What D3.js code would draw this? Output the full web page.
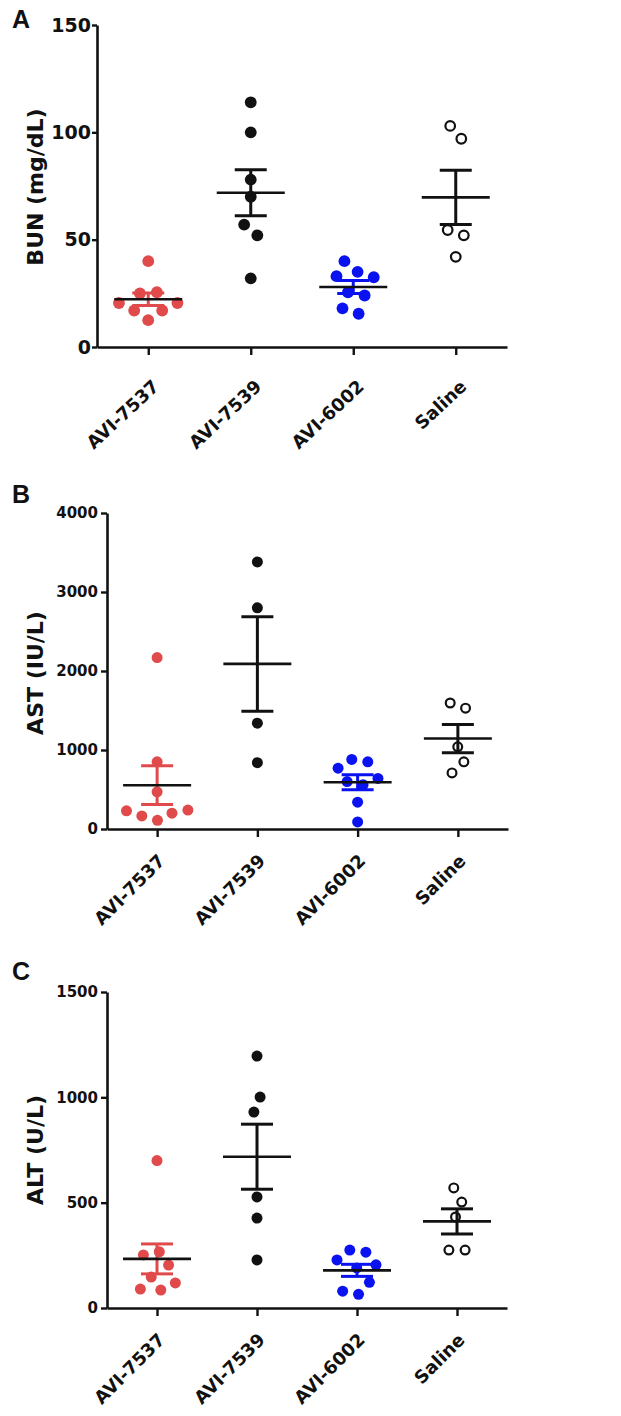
<!DOCTYPE html>
<html><head><meta charset="utf-8">
<script src="https://cdn.jsdelivr.net/npm/d3@7"></script>
<style>
body{margin:0;background:#fff}
text{font-family:"DejaVu Sans",sans-serif;font-weight:bold;fill:#111}
</style>
</head><body>
<svg id="chart" width="621" height="1416"></svg>
<script>
// ---------- data ----------
const categories = ["AVI-7537", "AVI-7539", "AVI-6002", "Saline"];

const bunTicks = [0, 50, 100, 150];
const bun7537 = [40, 25.5, 25, 20.5, 20.5, 17, 17, 12.5];
const bun7539 = [114, 100, 78, 70, 57, 52, 32];
const bun6002 = [40, 35, 33, 32.5, 25.5, 24, 18, 15.5];
const bunSaline = [103, 97, 54.5, 52, 42];

const astTicks = [0, 1000, 2000, 3000, 4000];
const ast7537 = [2170, 850, 470, 240, 230, 200, 165, 110];
const ast7539 = [3380, 2800, 1340, 840];
const ast6002 = [880, 850, 770, 640, 600, 560, 340, 90];
const astSaline = [1595, 1530, 1040, 850, 710];

const altTicks = [0, 500, 1000, 1500];
const alt7537 = [700, 267, 252, 204, 147, 119, 90, 85];
const alt7539 = [1196, 1001, 930, 527, 427, 228];
const alt6002 = [275, 265, 228, 205, 190, 122, 80, 65];
const altSaline = [570, 503, 432, 275, 275];

// ---------- styles ----------
const RED = "#e04a4a", BLUE = "#0a12f0", BLACK = "#111";
const groupStyle = [
  {fill: RED, stroke: "none", bar: RED},
  {fill: BLACK, stroke: "none", bar: BLACK},
  {fill: BLUE, stroke: "none", bar: BLUE},
  {fill: "#fff", stroke: BLACK, bar: BLACK}
];

const panels = [
  {letter: "A", letterY: 28, label: "BUN (mg/dL)", labelY: 187, ticks: bunTicks, max: 150,
   groups: [bun7537, bun7539, bun6002, bunSaline], r: 5.9,
   x0: 97, x1: 507, yTop: 25, yBot: 347, tickFont: 19, tickLen: 5, tickPad: 1,
   catDx: 12, catDy: 41, catRot: -43},
  {letter: "B", letterY: 503, label: "AST (IU/L)", labelY: 673, ticks: astTicks, max: 4000,
   groups: [ast7537, ast7539, ast6002, astSaline], r: 5.5,
   x0: 107, x1: 508, yTop: 513, yBot: 829, tickFont: 15, tickLen: 6, tickPad: 3,
   catDx: 9, catDy: 33, catRot: -45},
  {letter: "C", letterY: 980, label: "ALT (U/L)", labelY: 1150, ticks: altTicks, max: 1500,
   groups: [alt7537, alt7539, alt6002, altSaline], r: 5.5,
   x0: 107, x1: 507, yTop: 992, yBot: 1308, tickFont: 15, tickLen: 6, tickPad: 3,
   catDx: 9, catDy: 33, catRot: -45}
];

const svg = d3.select("#chart");

// symmetric swarm: y fixed by value, x relaxed by collision forces
function swarm(vals, y, cx, rad) {
  const nodes = vals.map((v, i) => ({v, fy: y(v), y: y(v), x: cx + (i % 2 ? 0.3 : -0.3) * (i + 1)}));
  const sim = d3.forceSimulation(nodes)
    .force("x", d3.forceX(cx).strength(0.08))
    .force("c", d3.forceCollide(rad).iterations(3))
    .stop();
  for (let k = 0; k < 400; k++) sim.tick();
  return nodes;
}

panels.forEach(p => {
  const g = svg.append("g");
  const x = d3.scalePoint().domain(categories).range([p.x0, p.x1]).padding(0.5);
  const y = d3.scaleLinear().domain([0, p.max]).range([p.yBot, p.yTop]);

  g.append("text").attr("x", 12).attr("y", p.letterY)
    .style("font-family", "'Liberation Sans', Arial, sans-serif").style("font-size", "25px").text(p.letter);

  g.append("text").attr("transform", `translate(43,${p.labelY}) rotate(-90)`)
    .attr("text-anchor", "middle").style("font-size", "22px").text(p.label);

  const ya = g.append("g").attr("transform", `translate(${p.x0},0)`)
    .call(d3.axisLeft(y).tickValues(p.ticks).tickFormat(d3.format("d")).tickSize(p.tickLen).tickPadding(p.tickPad).tickSizeOuter(0));
  ya.selectAll("text").style("font-size", p.tickFont + "px").style("font-family", "'DejaVu Sans',sans-serif").attr("fill", BLACK);

  const xa = g.append("g").attr("transform", `translate(0,${p.yBot})`)
    .call(d3.axisBottom(x).tickSize(8).tickSizeOuter(0));
  xa.selectAll("text").remove();
  [ya, xa].forEach(a => {
    a.select(".domain").attr("stroke", BLACK).attr("stroke-width", 2.6);
    a.selectAll(".tick line").attr("stroke", BLACK).attr("stroke-width", 2.4);
  });
  categories.forEach(c => {
    g.append("text")
      .attr("transform", `translate(${x(c) + p.catDx},${p.yBot + p.catDy}) rotate(${p.catRot})`)
      .attr("text-anchor", "end").style("font-size", "18px").text(c);
  });

  p.groups.forEach((vals, gi) => {
    const cx = x(categories[gi]);
    const st = groupStyle[gi];
    const open = st.stroke !== "none";
    const pts = swarm(vals, y, cx, p.r + 2.6);
    g.append("g").selectAll("circle").data(pts).join("circle")
      .attr("cx", d => d.x).attr("cy", d => d.fy)
      .attr("r", open ? p.r - 1.1 : p.r)
      .attr("fill", st.fill).attr("stroke", st.stroke).attr("stroke-width", open ? 2.2 : 0);

    const m = d3.mean(vals);
    const sem = d3.deviation(vals) / Math.sqrt(vals.length);
    const eb = g.append("g");
    eb.append("line").attr("x1", cx).attr("x2", cx).attr("y1", y(m + sem)).attr("y2", y(m - sem))
      .attr("stroke", st.bar).attr("stroke-width", 3);
    [m + sem, m - sem].forEach(v => {
      eb.append("line").attr("x1", cx - 16).attr("x2", cx + 16).attr("y1", y(v)).attr("y2", y(v))
        .attr("stroke", st.bar).attr("stroke-width", 3);
    });
    eb.append("line").attr("x1", cx - 34).attr("x2", cx + 34).attr("y1", y(m)).attr("y2", y(m))
      .attr("stroke", BLACK).attr("stroke-width", 2.6);
  });
});
</script>
</body></html>
